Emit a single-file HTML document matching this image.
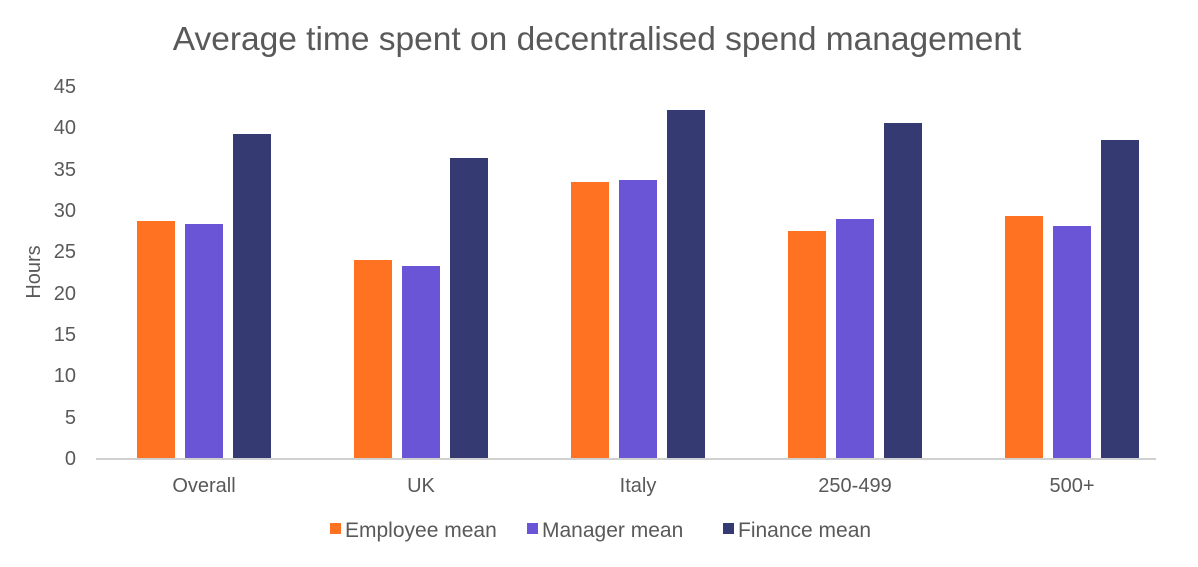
<!DOCTYPE html>
<html><head><meta charset="utf-8"><style>
body{margin:0;background:#fff;}
svg text{font-family:"Liberation Sans",Arial,sans-serif;fill:#595959;}
</style></head><body>
<svg width="1198" height="562" viewBox="0 0 1198 562" xmlns="http://www.w3.org/2000/svg">
<rect width="1198" height="562" fill="#fff"/>
<text x="597" y="50" font-size="33.5" text-anchor="middle" style="fill:#595959">Average time spent on decentralised spend management</text>
<g font-size="20" text-anchor="end">
<text x="76" y="465">0</text><text x="76" y="424">5</text><text x="76" y="382">10</text><text x="76" y="341">15</text><text x="76" y="300">20</text><text x="76" y="258">25</text><text x="76" y="217">30</text><text x="76" y="176">35</text><text x="76" y="134">40</text><text x="76" y="93">45</text>
</g>
<text transform="translate(40,272) rotate(-90)" font-size="20" text-anchor="middle">Hours</text>
<g>
<rect x="137" y="221" width="38" height="238" fill="#FF7221"/>
<rect x="185" y="224" width="38" height="235" fill="#6A55D6"/>
<rect x="233" y="134" width="38" height="325" fill="#363A72"/>
<rect x="354" y="260" width="38" height="199" fill="#FF7221"/>
<rect x="402" y="266" width="38" height="193" fill="#6A55D6"/>
<rect x="450" y="158" width="38" height="301" fill="#363A72"/>
<rect x="571" y="182" width="38" height="277" fill="#FF7221"/>
<rect x="619" y="180" width="38" height="279" fill="#6A55D6"/>
<rect x="667" y="110" width="38" height="349" fill="#363A72"/>
<rect x="788" y="231" width="38" height="228" fill="#FF7221"/>
<rect x="836" y="219" width="38" height="240" fill="#6A55D6"/>
<rect x="884" y="123" width="38" height="336" fill="#363A72"/>
<rect x="1005" y="216" width="38" height="243" fill="#FF7221"/>
<rect x="1053" y="226" width="38" height="233" fill="#6A55D6"/>
<rect x="1101" y="140" width="38" height="319" fill="#363A72"/>
</g>
<rect x="96" y="458" width="1060" height="2" fill="#d0d0d0"/>
<g font-size="20" text-anchor="middle">
<text x="204" y="492">Overall</text><text x="421" y="492">UK</text><text x="638" y="492">Italy</text><text x="855" y="492">250-499</text><text x="1072" y="492">500+</text>
</g>
<g font-size="21">
<rect x="330" y="523" width="11" height="11" fill="#FF7221"/><text x="345" y="537">Employee mean</text>
<rect x="527" y="523" width="11" height="11" fill="#6A55D6"/><text x="542" y="537">Manager mean</text>
<rect x="723" y="523" width="11" height="11" fill="#363A72"/><text x="738" y="537">Finance mean</text>
</g>
</svg>
</body></html>
